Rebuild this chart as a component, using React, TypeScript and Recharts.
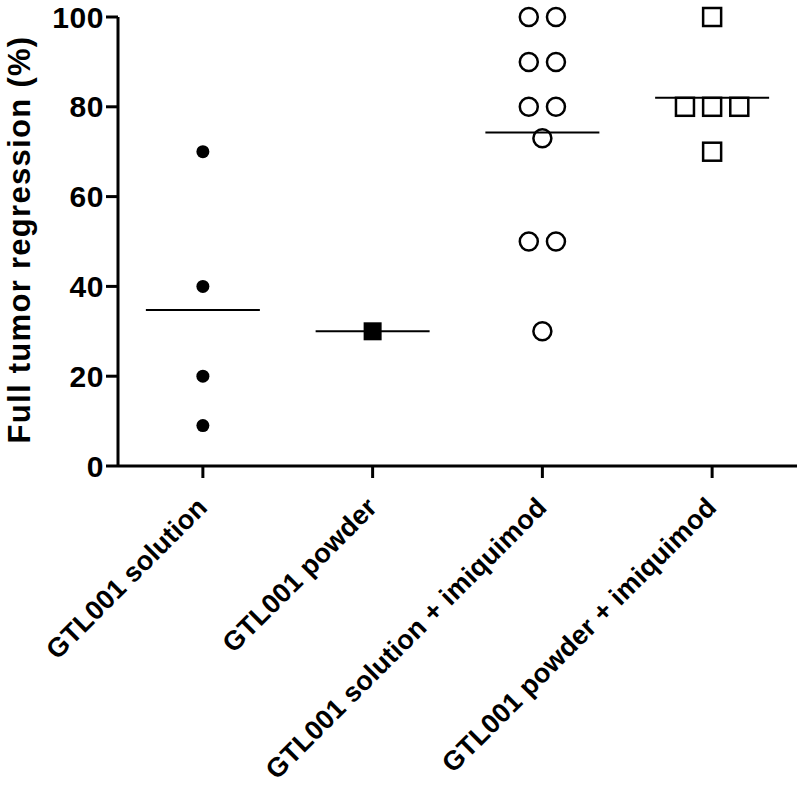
import React from 'react'
import { ScatterChart, Scatter, XAxis, YAxis } from 'recharts'

const categories = ['GTL001 solution', 'GTL001 powder', 'GTL001 solution + imiquimod', 'GTL001 powder + imiquimod']
const solutionValues = [70, 40, 20, 9]
const powderValues = [30]
const solutionImiqValues = [100, 100, 90, 90, 80, 80, 73, 50, 50, 30]
const powderImiqValues = [100, 80, 80, 80, 70]
const yTicks = [0, 20, 40, 60, 80, 100]

const FONT = '"Liberation Sans", Arial, sans-serif'
const JITTER = 0.16 // spread for equal values, in category units

// place repeated values side by side around the category centre
function spread(values: number[], cat: number) {
  const counts: Record<number, number> = {}
  values.forEach(v => { counts[v] = (counts[v] || 0) + 1 })
  const seen: Record<number, number> = {}
  return values.map(v => {
    const k = seen[v] || 0
    seen[v] = k + 1
    return { x: cat + (k - (counts[v] - 1) / 2) * JITTER, y: v }
  })
}

const mean = (arr: number[]) => arr.reduce((a, b) => a + b, 0) / arr.length
const means = [solutionValues, powderValues, solutionImiqValues, powderImiqValues].map((vals, i) => ({ x: i + 1, y: mean(vals) }))

const FilledCircle = (p: any) => <circle cx={p.cx} cy={p.cy} r={6.5} fill="#000" />
const FilledSquare = (p: any) => <rect x={p.cx - 9} y={p.cy - 9} width={18} height={18} fill="#000" />
const OpenCircle = (p: any) => <circle cx={p.cx} cy={p.cy} r={9} fill="#fff" stroke="#000" strokeWidth={2.5} />
const OpenSquare = (p: any) => <rect x={p.cx - 9} y={p.cy - 9} width={18} height={18} fill="#fff" stroke="#000" strokeWidth={2.5} />
const MeanBar = (p: any) => <line x1={p.cx - 57} x2={p.cx + 57} y1={p.cy} y2={p.cy} stroke="#000" strokeWidth={2} />

function CategoryTick({ x, y, payload }: any) {
  const label = categories[Math.round(payload.value) - 1]
  const ax = x + 6
  const ay = y + 29
  return (
    <text x={ax} y={ay} transform={`rotate(-45, ${ax}, ${ay})`} textAnchor="end"
      fontFamily={FONT} fontWeight="bold" fontSize={27} letterSpacing={0.2} fill="#000">
      {label}
    </text>
  )
}

function YLabel({ viewBox }: any) {
  const cy = viewBox.y + viewBox.height / 2 - 2
  return (
    <text x={30} y={cy} transform={`rotate(-90, 30, ${cy})`} textAnchor="middle"
      fontFamily={FONT} fontWeight="bold" fontSize={31} letterSpacing={1.3} fill="#000">
      Full tumor regression (%)
    </text>
  )
}

export default function App() {
  return (
    <div style={{ position: 'absolute', left: 0, top: 0, background: '#fff' }}>
      <ScatterChart width={800} height={787} margin={{ top: 17, right: 3, left: 0, bottom: 21 }}>
        <XAxis
          type="number"
          dataKey="x"
          domain={[0.5, 4.5]}
          ticks={[1, 2, 3, 4]}
          interval={0}
          height={300}
          axisLine={{ stroke: '#000', strokeWidth: 3 }}
          tickLine={{ stroke: '#000', strokeWidth: 3 }}
          tickSize={12}
          tick={<CategoryTick />}
        />
        <YAxis
          type="number"
          dataKey="y"
          domain={[0, 100]}
          ticks={yTicks}
          width={118}
          axisLine={{ stroke: '#000', strokeWidth: 3 }}
          tickLine={{ stroke: '#000', strokeWidth: 3 }}
          tickSize={12}
          tickMargin={2}
          tick={{ fill: '#000', fontSize: 30, fontWeight: 'bold', fontFamily: FONT, letterSpacing: 0.6 }}
          label={<YLabel />}
        />
        <Scatter data={spread(solutionValues, 1)} shape={<FilledCircle />} isAnimationActive={false} />
        <Scatter data={spread(powderValues, 2)} shape={<FilledSquare />} isAnimationActive={false} />
        <Scatter data={spread(solutionImiqValues, 3)} shape={<OpenCircle />} isAnimationActive={false} />
        <Scatter data={spread(powderImiqValues, 4)} shape={<OpenSquare />} isAnimationActive={false} />
        <Scatter data={means} shape={<MeanBar />} isAnimationActive={false} />
      </ScatterChart>
    </div>
  )
}
